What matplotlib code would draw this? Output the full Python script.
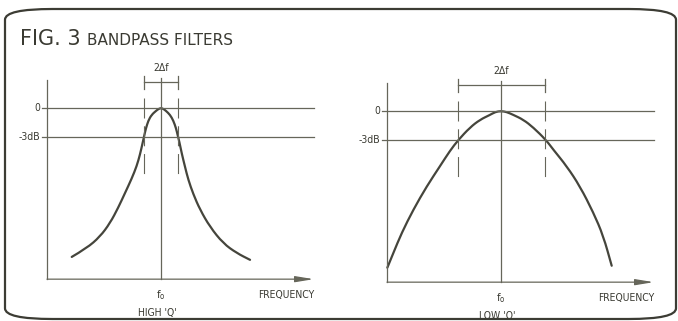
import matplotlib
matplotlib.use("Agg")
import matplotlib.pyplot as plt
from matplotlib.patches import FancyBboxPatch, PathPatch
from matplotlib.path import Path

# values: frequency in arbitrary units (f0 = 100), response in dB
f0 = 100
high_q_f = [21.7, 34.8, 46.5, 55.3, 62.5, 68.4, 74.3, 78.7, 81.6, 83.9, 85.4, 86.8,
            88.9, 91.8, 95.6, 97.8, 100, 102.2, 104.4, 107.9, 110.8, 113.2, 114.6,
            116.1, 118.2, 121.1, 123.9, 128.3, 134.2, 143.0, 154.6, 166.4, 178.1]
high_q_db = [-15.4, -14.5, -13.3, -11.9, -10.3, -8.8, -7.3, -6.0, -4.8, -3.6, -2.8, -2.1,
             -1.3, -0.7, -0.3, -0.1, 0, -0.1, -0.3, -0.7, -1.3, -2.1, -2.8,
             -3.5, -4.7, -6.1, -7.4, -8.9, -10.5, -12.3, -14.0, -15.0, -15.7]
low_q_f = [0.3, 5.5, 12.9, 23.1, 34.8, 46.5, 55.3, 62.5, 72.8, 81.6, 90.4, 95.0,
           100, 105.0, 110.8, 119.6, 128.3, 139.5, 145.9, 157.6, 169.3, 181.0,
           189.7, 197.1]
low_q_db = [-16.2, -14.7, -12.6, -10.2, -7.8, -5.7, -4.1, -3.0, -1.7, -0.9, -0.4, -0.1,
            0, -0.1, -0.4, -0.9, -1.7, -3.0, -4.0, -5.7, -7.8, -10.5,
            -12.9, -16.0]
high_q_band = [85.0, 115.0]
low_q_band = [62.5, 139.0]
levels = [0, -3]
level_labels = ["0", "-3dB"]
captions = ["HIGH 'Q'", "LOW 'Q'"]

ink = "#45453c"
thin = "#66665a"
txt = "#3a3a32"
narrow = dict(family=["DejaVu Sans"], fontstretch="condensed")


def smooth_path(xs, ys):
    # quadratic bezier through the midpoints, the read points act as control points
    pts = list(zip(xs, ys))
    verts = [pts[0]]
    codes = [Path.MOVETO]
    for i in range(1, len(pts) - 1):
        mid = ((pts[i][0] + pts[i + 1][0]) / 2, (pts[i][1] + pts[i + 1][1]) / 2)
        verts += [pts[i], mid]
        codes += [Path.CURVE3, Path.CURVE3]
    verts.append(pts[-1])
    codes.append(Path.LINETO)
    return Path(verts, codes)


fig = plt.figure(figsize=(6.78, 3.21), dpi=100)
fig.patch.set_facecolor("white")

# rounded frame of the figure
frame = FancyBboxPatch((5 / 678, 2 / 321), 671 / 678, 310 / 321,
                       boxstyle="round,pad=0,rounding_size=0.07",
                       transform=fig.transFigure, fill=False,
                       ec="#3c3c34", lw=1.6, mutation_aspect=321 / 678)
fig.patches.append(frame)

fig.text(20 / 678, (321 - 45) / 321, "FIG. 3", fontsize=15, color=txt,
         family="DejaVu Sans", va="baseline")
fig.text(87 / 678, (321 - 45) / 321, "BANDPASS FILTERS", fontsize=11, color=txt,
         family="DejaVu Sans", va="baseline")

x0, x1, y0, y1 = -10, 240, -18.5, 5
w = (x1 - x0) * 1.14 / 678
h = (y1 - y0) * 9.67 / 321
axes = [fig.add_axes([35.6 / 678, 34.1 / 321, w, h]),
        fig.add_axes([375.6 / 678, 31.1 / 321, w, h])]

panels = [(high_q_f, high_q_db, high_q_band), (low_q_f, low_q_db, low_q_band)]
for ax, (f, db, band), cap in zip(axes, panels, captions):
    ax.set_xlim(x0, x1)
    ax.set_ylim(y0, y1)
    ax.axis("off")
    bottom = -17.7
    # axes
    ax.plot([0, 0], [bottom, 2.9], color=thin, lw=0.9)
    ax.annotate("", xy=(234, bottom), xytext=(0, bottom),
                arrowprops=dict(arrowstyle="-|>,head_length=1.1,head_width=0.18",
                                color=thin, lw=0.9, mutation_scale=10,
                                shrinkA=0, shrinkB=0))
    # reference levels
    for lv, lab in zip(levels, level_labels):
        ax.plot([-4, 234], [lv, lv], color=thin, lw=0.9)
        ax.text(-6, lv, lab, ha="right", va="center", fontsize=7.5,
                color=txt, **narrow)
    # centre line at f0
    ax.plot([f0, f0], [bottom, 3.1], color=thin, lw=0.9)
    # bandwidth bracket and dashed guides
    ax.plot(band, [2.7, 2.7], color=thin, lw=0.9)
    for b in band:
        ax.plot([b, b], [3.3, 2.0], color=thin, lw=0.9)
        ax.plot([b, b], [1.0, -7.2], color=thin, lw=0.8, linestyle=(0, (18, 7)))
    ax.text(f0, 4.1, "2Δf", ha="center", va="center", fontsize=7.5,
            color=txt, **narrow)
    # response curve
    ax.add_patch(PathPatch(smooth_path(f, db), fill=False, ec=ink, lw=1.6,
                           capstyle="round", joinstyle="round"))
    ax.text(f0, -19.3, r"f$_\mathregular{o}$", ha="center", va="center",
            fontsize=8, color=txt, clip_on=False, **narrow)
    ax.text(210, -19.3, "FREQUENCY", ha="center", va="center", fontsize=7.5,
            color=txt, clip_on=False, **narrow)
    ax.text(96.5, -21.2, cap, ha="center", va="center", fontsize=7.5,
            color=txt, clip_on=False, **narrow)

fig.savefig("out.png", dpi=100, facecolor="white")
